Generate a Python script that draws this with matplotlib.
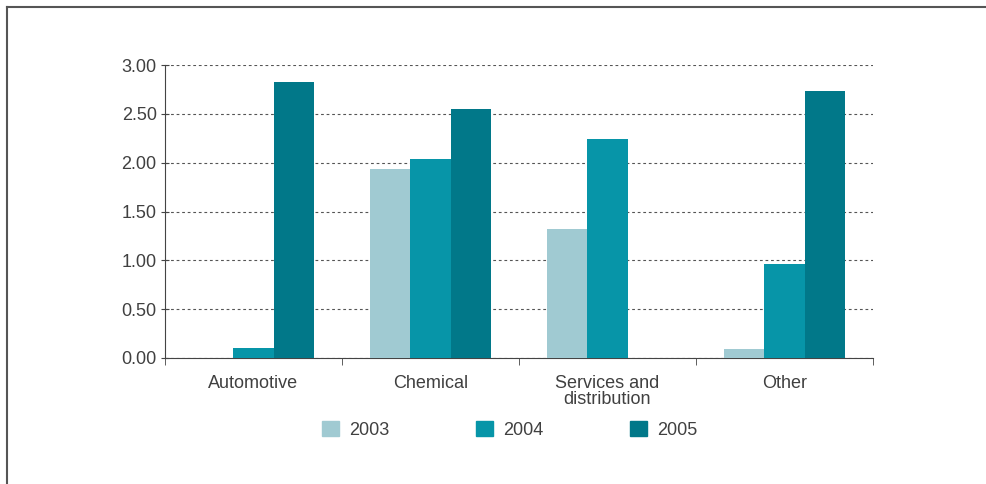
import numpy as np
import matplotlib
matplotlib.use('Agg')
from matplotlib import pyplot as plt
from matplotlib.lines import Line2D

categories = ['Automotive', 'Chemical', 'Services and\ndistribution', 'Other']
years = ['2003', '2004', '2005']
v2003 = [0.00, 1.94, 1.32, 0.09]
v2004 = [0.10, 2.04, 2.24, 0.96]
v2005 = [2.83, 2.55, 0.00, 2.73]
yticks = [0.0, 0.5, 1.0, 1.5, 2.0, 2.5, 3.0]

colors = ['#a0cad2', '#0795a8', '#017889']
txt = '#404040'

plt.rcParams['font.family'] = ['Liberation Sans', 'DejaVu Sans']

fig = plt.figure(figsize=(9.86, 4.84), dpi=100)
ax = fig.add_axes([165 / 986, 1 - 358 / 484, (873 - 165) / 986, (358 - 65) / 484])

x = np.arange(len(categories))
w = 0.227
for i, vals in enumerate([v2003, v2004, v2005]):
    ax.bar(x + (i - 1) * w, vals, width=w, color=colors[i], label=years[i], zorder=3)

ax.set_xlim(-0.5, len(categories) - 0.5)
ax.set_ylim(0, 3.0)
ax.set_yticks(yticks)
ax.set_yticklabels(['%.2f' % t for t in yticks], color=txt, fontsize=13)
ax.yaxis.grid(True, linestyle=(0, (2.5, 2.5)), color='#555555', linewidth=0.8)

ax.set_xticks(x)
ax.set_xticklabels(categories, color=txt, fontsize=13, linespacing=0.95)
ax.tick_params(axis='x', length=0, pad=12)
# category boundary ticks
ax.set_xticks(np.arange(-0.5, len(categories), 1.0), minor=True)
ax.tick_params(axis='x', which='minor', length=5, direction='out', color='#444444')
ax.tick_params(axis='y', length=6, direction='inout', color='#444444', pad=3)

for s in ['top', 'right']:
    ax.spines[s].set_visible(False)
ax.spines['left'].set_color('#444444')
ax.spines['bottom'].set_color('#444444')

handles = [plt.Rectangle((0, 0), 1, 1, color=c) for c in colors]
fig.legend(handles, years, loc='center', bbox_to_anchor=(510 / 986, 1 - 430 / 484),
           ncol=3, frameon=False, fontsize=13, handlelength=0.9, handleheight=0.9,
           columnspacing=4.8, handletextpad=0.6, labelcolor=txt)

# outer frame (top and left edges only)
fig.add_artist(Line2D([7 / 986, 7 / 986], [0, 1 - 6.5 / 484], transform=fig.transFigure,
                      color='#555555', linewidth=1.5))
fig.add_artist(Line2D([7 / 986, 1], [1 - 6.5 / 484, 1 - 6.5 / 484], transform=fig.transFigure,
                      color='#555555', linewidth=1.5))

fig.savefig('out.png', dpi=100)
